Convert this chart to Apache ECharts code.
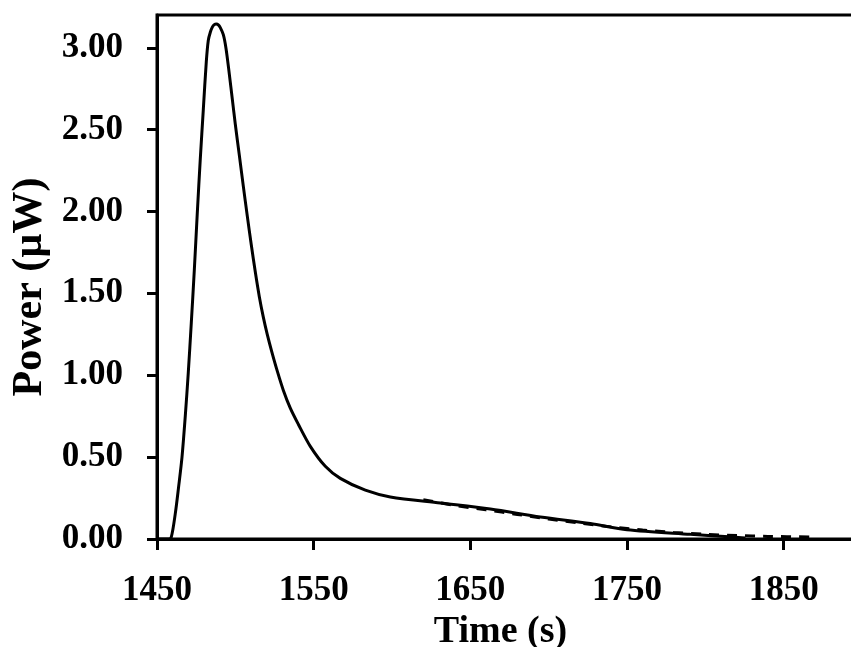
<!DOCTYPE html>
<html>
<head>
<meta charset="utf-8">
<script src="https://cdn.jsdelivr.net/npm/echarts@6/dist/echarts.min.js"></script>
<style>
  html, body { margin: 0; padding: 0; background: #fff; }
  #chart { width: 851px; height: 647px; }
</style>
</head>
<body>
<div id="chart"></div>
<script>
// Measured curve (Time in s, Power in µW)
const measuredTime = [1450, 1457.21, 1459.12, 1461.67, 1463.79, 1465.96, 1468.07, 1469.98, 1471.90, 1473.81, 1475.73, 1477.64, 1479.56, 1481.47, 1482.75, 1484.03, 1485.31, 1486.58, 1487.86, 1489.14, 1490.41, 1492.33, 1494.05, 1496.16, 1498.07, 1499.98, 1502.54, 1505.09, 1507.64, 1510.20, 1512.75, 1515.31, 1517.86, 1520.41, 1523.28, 1526.79, 1530.62, 1535.09, 1540.20, 1547.86, 1557.43, 1567.01, 1582.97, 1598.93, 1630.9, 1662.8, 1694.7, 1726.6, 1750.0, 1790.4, 1817.9, 1825.6];
const measuredPower = [0, 0, 0.012, 0.155, 0.318, 0.500, 0.753, 1.018, 1.321, 1.641, 1.993, 2.323, 2.622, 2.915, 3.046, 3.095, 3.126, 3.141, 3.145, 3.140, 3.123, 3.080, 2.996, 2.839, 2.686, 2.533, 2.344, 2.155, 1.972, 1.795, 1.630, 1.480, 1.355, 1.248, 1.143, 1.025, 0.909, 0.799, 0.701, 0.566, 0.444, 0.370, 0.298, 0.257, 0.220, 0.183, 0.134, 0.094, 0.057, 0.029, 0.012, 0.006];

// Dashed tail curve
const tailTime = [1620, 1640, 1660, 1680, 1700, 1720, 1740, 1760, 1780, 1800, 1820, 1840, 1868];
const tailPower = [0.24, 0.205, 0.178, 0.15, 0.122, 0.097, 0.074, 0.055, 0.04, 0.029, 0.021, 0.016, 0.012];

// Tick values
const xTicks = [1450, 1550, 1650, 1750, 1850];
const yTicks = [0, 0.5, 1.0, 1.5, 2.0, 2.5, 3.0];

const FONT = "'Liberation Serif', 'Times New Roman', serif";

const chart = echarts.init(document.getElementById('chart'), null, { renderer: 'canvas' });

const option = {
  animation: false,
  backgroundColor: '#ffffff',
  grid: {
    left: 157, top: 15, right: -11, bottom: 108,
    show: true, borderColor: '#000', borderWidth: 3,
    containLabel: false, outerBoundsMode: 'none'
  },
  xAxis: {
    type: 'value', min: 1450, max: 1900,
    name: 'Time (s)', nameLocation: 'middle', nameGap: 70,
    nameTextStyle: { fontFamily: FONT, fontWeight: 'bold', fontSize: 38, color: '#000', padding: [0, 18, 0, 0] },
    axisLine: { show: true, onZero: false, lineStyle: { color: '#000', width: 3 } },
    axisTick: { show: true, inside: false, length: 11, customValues: xTicks, lineStyle: { color: '#000', width: 3 } },
    axisLabel: { show: true, margin: 34, customValues: xTicks, fontFamily: FONT, fontWeight: 'bold', fontSize: 35, color: '#000',
      formatter: v => String(v) },
    splitLine: { show: false }
  },
  yAxis: {
    type: 'value', min: 0, max: 3.2,
    name: 'Power (µW)', nameLocation: 'middle', nameGap: 106, nameRotate: 90,
    nameTextStyle: { fontFamily: FONT, fontWeight: 'bold', fontSize: 42, color: '#000', padding: [0, 20, 0, 0] },
    axisLine: { show: true, onZero: false, lineStyle: { color: '#000', width: 3 } },
    axisTick: { show: true, inside: false, length: 10, customValues: yTicks, lineStyle: { color: '#000', width: 3 } },
    axisLabel: { show: true, margin: 34, customValues: yTicks, fontFamily: FONT, fontWeight: 'bold', fontSize: 35, color: '#000',
      formatter: v => v.toFixed(2) },
    splitLine: { show: false }
  },
  series: [
    {
      type: 'line', name: 'measured',
      data: measuredTime.map((t, i) => [t, measuredPower[i]]),
      showSymbol: false, smooth: 0.3,
      lineStyle: { color: '#000', width: 3 }, z: 3
    },
    {
      type: 'line', name: 'tail',
      data: tailTime.map((t, i) => [t, tailPower[i]]),
      showSymbol: false, smooth: 0.3,
      lineStyle: { color: '#000', width: 3, type: [10, 8] }, z: 2
    }
  ]
};
chart.setOption(option);
</script>
</body>
</html>
